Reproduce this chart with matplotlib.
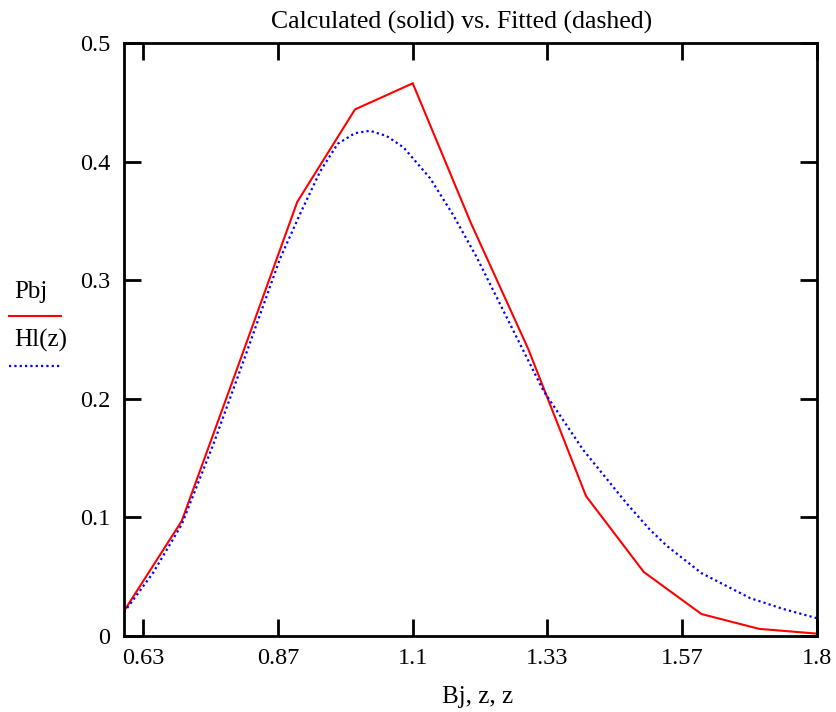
import matplotlib
matplotlib.use('Agg')
import matplotlib.pyplot as plt
from matplotlib.lines import Line2D

plt.rcParams['font.family'] = ['Liberation Serif', 'DejaVu Serif']

# calculated points (solid red)
Bj = [0.6, 0.7, 0.8, 0.9, 1.0, 1.1, 1.2, 1.3, 1.4, 1.5, 1.6, 1.7, 1.8]
Pbj = [0.021, 0.097, 0.231, 0.366, 0.444, 0.466, 0.349, 0.242, 0.118, 0.054, 0.0185, 0.006, 0.002]

# fitted curve (dotted blue)
z = [0.6, 0.65, 0.7, 0.755, 0.81, 0.87, 0.905, 0.94, 0.97, 1.0, 1.026, 1.055, 1.084,
     1.13, 1.17, 1.21, 1.25, 1.326, 1.395, 1.47, 1.51, 1.54, 1.6, 1.684, 1.74, 1.8]
Hl = [0.020, 0.053, 0.094, 0.162, 0.236, 0.318, 0.356, 0.392, 0.415, 0.424, 0.426, 0.4215, 0.412,
      0.386, 0.355, 0.320, 0.281, 0.207, 0.157, 0.112, 0.090, 0.076, 0.053, 0.032, 0.023, 0.015]

xticks = [0.6333, 0.8667, 1.1, 1.3333, 1.5667, 1.8]
xticklabels = ['0.63', '0.87', '1.1', '1.33', '1.57', '1.8']
yticks = [0, 0.1, 0.2, 0.3, 0.4, 0.5]
yticklabels = ['0', '0.1', '0.2', '0.3', '0.4', '0.5']

W, H = 837, 712
fig = plt.figure(figsize=(W / 100, H / 100), dpi=100)
ax = fig.add_axes([124 / W, 1 - 636 / H, (817 - 124) / W, (636 - 43) / H])

ax.plot(Bj, Pbj, color='#ff0000', lw=1.5, solid_joinstyle='miter')
ax.plot(z, Hl, color='#0000ff', lw=1.6, linestyle=(0, (1, 1.4)))

ax.set_xlim(0.6, 1.8)
ax.set_ylim(0, 0.5)
ax.set_xticks(xticks)
ax.set_xticklabels(xticklabels)
ax.set_yticks(yticks)
ax.set_yticklabels(yticklabels)
ax.tick_params(direction='in', length=12, width=2, labelsize=17.5, colors='black',
               top=True, right=True)
ax.tick_params(axis='x', pad=9)
ax.tick_params(axis='y', pad=10)
for s in ax.spines.values():
    s.set_linewidth(2)

fig.text(462 / W, 1 - 22 / H, 'Calculated (solid) vs. Fitted (dashed)', ha='center', va='center', fontsize=18.5)
fig.text(478 / W, 1 - 697 / H, 'Bj, z, z', ha='center', va='center', fontsize=18)

# left legend
fig.text(14 / W, 1 - 292 / H, 'Pbj', ha='left', va='center', fontsize=18)
fig.add_artist(Line2D([9 / W, 61 / W], [1 - 316 / H, 1 - 316 / H], color='#ff0000', lw=1.5))
fig.text(14 / W, 1 - 340 / H, 'Hl(z)', ha='left', va='center', fontsize=18)
fig.add_artist(Line2D([9 / W, 60 / W], [1 - 366 / H, 1 - 366 / H], color='#0000ff', lw=1.6,
                      linestyle=(0, (1, 1.4))))

fig.savefig('out.png', dpi=100)
